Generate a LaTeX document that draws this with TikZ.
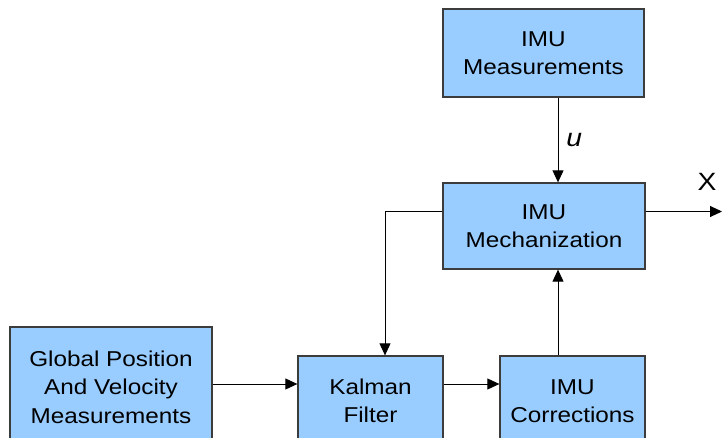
\documentclass[tikz,border=0pt]{standalone}
\usepackage{fontspec}
\setmainfont{Liberation Sans}[FakeStretch=1.13]
\usetikzlibrary{arrows.meta}
\definecolor{blockblue}{HTML}{99CCFF}
\definecolor{blockline}{HTML}{3C3C3C}
\begin{document}
\begin{tikzpicture}[
        x=1pt,
        y=-1pt,
        font=\fontsize{21.5}{28.5}\selectfont
    ]
    \tikzset{
        myblock/.style = {rectangle, draw=blockline, line width=1.3pt, fill=blockblue, align=center, inner sep=0pt},
        myarrow/.style = {-{Triangle[length=12pt,width=11pt]}, line width=0.9pt},
        mylabel/.style = {font=\fontsize{25}{30}\selectfont},
    }
        \useasboundingbox (0,0) rectangle (722,438);
        %
        \node[myblock, minimum width=201, minimum height=88] at (543.5,53) (imumeas) {IMU\\Measurements};
        \node[myblock, minimum width=202, minimum height=86] at (544,226) (imumech) {IMU\\Mechanization};
        \node[myblock, minimum width=202, minimum height=120] at (111,387) (gps) {Global Position\\And Velocity\\Measurements};
        \node[myblock, minimum width=145, minimum height=90] at (370.5,401) (kalman) {Kalman\\Filter};
        \node[myblock, minimum width=145, minimum height=90] at (572.5,401) (imucorr) {IMU\\Corrections};
        %
        \coordinate (bus) at (558,0);
        \coordinate (drop) at (385,0);
        \coordinate (tap) at (0,211.5);
        \coordinate (row) at (0,384);
        \coordinate (xout) at (722,211.5);
        %
        \draw[myarrow] (imumeas.south -| bus) -- (imumech.north -| bus)
            node[midway, right=8pt, mylabel, inner sep=0pt] (u) {\textit{u}};
        \draw[myarrow] (imucorr.north -| bus) -- (imumech.south -| bus);
        \draw[myarrow] (imumech.east |- tap) -- (xout);
        \node[mylabel, inner sep=0pt] at (707,182) (xlab) {X};
        \draw[myarrow] (imumech.west |- tap) -| (kalman.north -| drop);
        %
        \draw[myarrow] (gps.east |- row) -- (kalman.west |- row);
        \draw[myarrow] (kalman.east |- row) -- (imucorr.west |- row);
    \end{tikzpicture}
\end{document}
